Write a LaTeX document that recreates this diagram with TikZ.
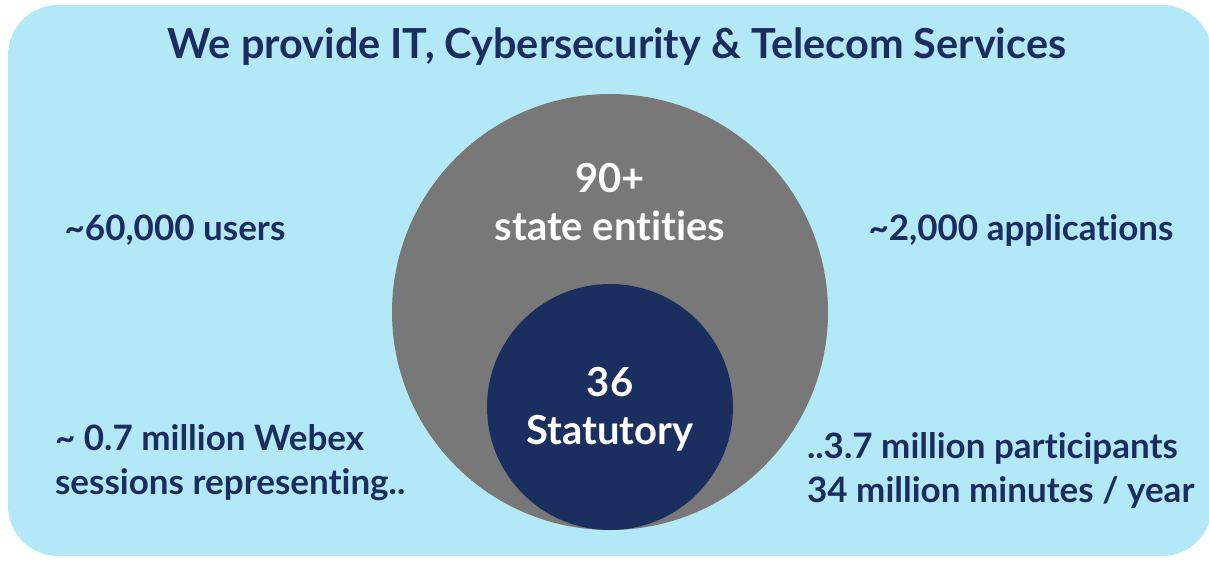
\documentclass[tikz,border=0pt]{standalone}
\usepackage{fontspec}
\setmainfont{Lato}[Ligatures=NoCommon]
\usetikzlibrary{positioning}

\definecolor{skyback}{HTML}{B3E9F6}
\definecolor{entgray}{HTML}{787878}
\definecolor{statnavy}{HTML}{1A2F5F}
\definecolor{textnavy}{HTML}{1B2D5E}

\begin{document}
\begin{tikzpicture}[x=0.5pt, y=-0.5pt,
    fact/.style={text=textnavy, font=\fontsize{17.5}{22}\selectfont\bfseries, align=left},
    inner/.style={text=white, font=\fontsize{20}{24}\selectfont\bfseries, align=center}]
\useasboundingbox (0,0) rectangle (1209,561);
\fill[skyback, rounded corners=25pt] (8,5) rectangle (1212,556);

\node[circle, fill=entgray, minimum size=218pt, inner sep=0pt] (entities) at (610,312) {};
\node[circle, fill=statnavy, minimum size=123pt, inner sep=0pt] (statutory) at (610,407) {};

\node[text=textnavy, font=\fontsize{20.7}{24}\selectfont\bfseries] (title) at (617,47)
    {We provide IT, Cybersecurity \& Telecom Services};

\node[inner] (state) at (610,202) {90+\\state entities};
\node[inner] (stat) at (610,409) {36\\Statutory};

\node[fact, anchor=base] (users) at (175,241) {\textasciitilde60,000 users};
\node[fact, anchor=base] (apps) at (1021,241) {\textasciitilde2,000 applications};
\node[fact, anchor=west] (webex) at (48,463) {\textasciitilde{} 0.7 million Webex\\sessions representing..};
\node[fact, anchor=west] (parts) at (800,470) {..3.7 million participants\\34 million minutes / year};
\end{tikzpicture}
\end{document}
